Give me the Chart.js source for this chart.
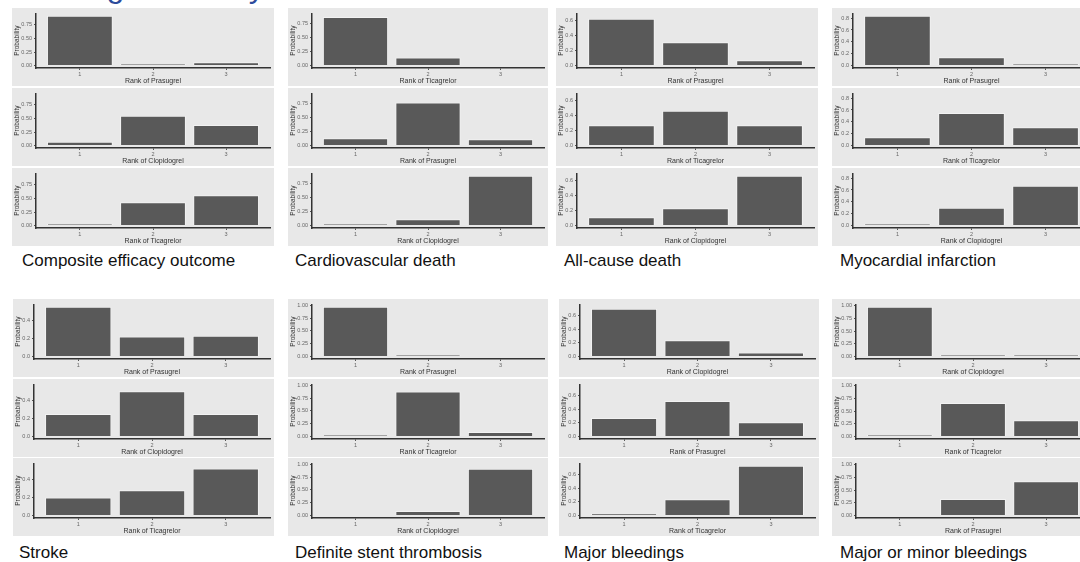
<!DOCTYPE html>
<html>
<head>
<meta charset="utf-8">
<script src="https://cdn.jsdelivr.net/npm/chart.js@4.4.1/dist/chart.umd.min.js"></script>
<style>
    html, body {
        margin: 0;
        padding: 0;
        width: 1080px;
        height: 562px;
        overflow: hidden;
        background: #fff;
        position: relative;
        font-family: 'Liberation Sans', Arial, sans-serif;
    }
    .panel { position: absolute; background: #e8e8e8; }
    .panel canvas { display: block; }
    .caption {
        position: absolute;
        font-size: 17px;
        line-height: 17px;
        color: #111;
        white-space: nowrap;
    }
    .heading {
        position: absolute;
        left: 14px;
        top: -30px;
        font-size: 32px;
        line-height: 32px;
        color: #2d4b9b;
        white-space: nowrap;
    }
</style>
</head>
<body>
<div class="heading">Rankogram analysis</div>
<script>
// Data
const ranks = ['1', '2', '3'];

const outcomes = [
    'Composite efficacy outcome', 'Cardiovascular death', 'All-cause death', 'Myocardial infarction',
    'Stroke', 'Definite stent thrombosis', 'Major bleedings', 'Major or minor bleedings'
];

const drugOrder = [
    ['Prasugrel', 'Clopidogrel', 'Ticagrelor'],
    ['Ticagrelor', 'Prasugrel', 'Clopidogrel'],
    ['Prasugrel', 'Ticagrelor', 'Clopidogrel'],
    ['Prasugrel', 'Ticagrelor', 'Clopidogrel'],
    ['Prasugrel', 'Clopidogrel', 'Ticagrelor'],
    ['Prasugrel', 'Ticagrelor', 'Clopidogrel'],
    ['Clopidogrel', 'Prasugrel', 'Ticagrelor'],
    ['Clopidogrel', 'Ticagrelor', 'Prasugrel']
];

// probability of rank 1..3, one row per drug (same order as drugOrder)
const compositeProb   = [[0.92, 0.01, 0.06], [0.07, 0.55, 0.38], [0.01, 0.43, 0.56]];
const cvDeathProb     = [[0.86, 0.14, 0.00], [0.13, 0.76, 0.11], [0.01, 0.11, 0.88]];
const allCauseProb    = [[0.62, 0.31, 0.07], [0.27, 0.46, 0.27], [0.11, 0.23, 0.66]];
const miProb          = [[0.84, 0.14, 0.02], [0.14, 0.55, 0.31], [0.02, 0.30, 0.67]];
const strokeProb      = [[0.55, 0.22, 0.23], [0.25, 0.50, 0.25], [0.20, 0.28, 0.52]];
const stentProb       = [[0.97, 0.03, 0.00], [0.03, 0.88, 0.09], [0.00, 0.09, 0.91]];
const majorBleedProb  = [[0.70, 0.24, 0.06], [0.27, 0.52, 0.21], [0.03, 0.24, 0.73]];
const anyBleedProb    = [[0.98, 0.015, 0.005], [0.02, 0.66, 0.32], [0.00, 0.325, 0.675]];

const probs = [compositeProb, cvDeathProb, allCauseProb, miProb,
               strokeProb, stentProb, majorBleedProb, anyBleedProb];

// y tick labels per outcome
const ticksQuarter    = ['0.00', '0.25', '0.50', '0.75'];
const ticksQuarterOne = ['0.00', '0.25', '0.50', '0.75', '1.00'];
const ticksTo06       = ['0.0', '0.2', '0.4', '0.6'];
const ticksTo08       = ['0.0', '0.2', '0.4', '0.6', '0.8'];
const ticksTo04       = ['0.0', '0.2', '0.4'];

const yTicks = [ticksQuarter, ticksQuarter, ticksTo06, ticksTo08,
                ticksTo04, ticksQuarterOne, ticksTo06, ticksQuarterOne];

// Layout
const groupX = [12, 288, 556, 832, 13, 288, 559, 832];
const groupW = [262, 260, 262, 262, 261, 260, 260, 262];
const captionX = [22, 295, 564, 840, 19, 295, 564, 840];
const rowPanelY = [[8, 88, 168], [299, 379, 458]];
const captionY = [252, 544];
const panelH = 78;

Chart.defaults.font.family = "'Liberation Sans', Arial, sans-serif";

function makePanel(left, top, width, values, drug, labels, maxVal) {
    const div = document.createElement('div');
    div.className = 'panel';
    div.style.left = left + 'px';
    div.style.top = top + 'px';
    div.style.width = width + 'px';
    div.style.height = panelH + 'px';
    const canvas = document.createElement('canvas');
    canvas.width = width;
    canvas.height = panelH;
    div.appendChild(canvas);
    document.body.appendChild(div);

    const axisW = labels[0].length > 3 ? 24 : 21;

    new Chart(canvas, {
        type: 'bar',
        data: {
            datasets: [{
                // zero probabilities are not drawn at all; tiny ones still show as a thin line
                data: ranks.map((r, i) => ({ x: Number(r), y: values[i] > 0 ? values[i] : null })),
                backgroundColor: '#595959',
                borderColor: 'rgba(255,255,255,0.45)',
                borderWidth: 1,
                minBarLength: 1.5,
                barPercentage: 0.9,
                categoryPercentage: 1
            }]
        },
        options: {
            responsive: false,
            animation: false,
            devicePixelRatio: 1,
            layout: { padding: { top: 3, right: 4, left: 0, bottom: 0 } },
            plugins: { legend: { display: false }, tooltip: { enabled: false } },
            scales: {
                x: {
                    type: 'linear',
                    min: 0.4,
                    max: 3.6,
                    offset: false,
                    afterBuildTicks: (s) => { s.ticks = ranks.map(r => ({ value: Number(r) })); },
                    afterFit: (s) => { s.height = 18; },
                    ticks: {
                        callback: (v, i) => ranks[i],
                        font: { size: 5.5 },
                        color: '#666',
                        padding: 1,
                        maxRotation: 0,
                        autoSkip: false
                    },
                    grid: { display: true, drawOnChartArea: false, drawTicks: true, tickLength: 2, color: '#555', offset: false },
                    border: { display: true, color: '#333', width: 1.5 },
                    title: { display: true, text: 'Rank of ' + drug, font: { size: 7 }, color: '#333', padding: { top: 0, bottom: 1 } }
                },
                y: {
                    min: -0.05 * maxVal,
                    max: 1.05 * maxVal,
                    afterBuildTicks: (s) => { s.ticks = labels.map(t => ({ value: parseFloat(t) })); },
                    afterFit: (s) => { s.width = axisW; },
                    ticks: {
                        callback: (v, i) => labels[i],
                        font: { size: 5.5 },
                        color: '#666',
                        padding: 2,
                        autoSkip: false
                    },
                    grid: { display: true, drawOnChartArea: false, drawTicks: true, tickLength: 2, color: '#555' },
                    border: { display: true, color: '#333', width: 1.5 },
                    title: { display: true, text: 'Probability', font: { size: 6.5 }, color: '#333', padding: { top: 1.5, bottom: 0 } }
                }
            }
        }
    });
}

outcomes.forEach((name, g) => {
    const row = g < 4 ? 0 : 1;
    const maxVal = Math.max(...probs[g].flat());
    drugOrder[g].forEach((drug, p) => {
        makePanel(groupX[g], rowPanelY[row][p], groupW[g], probs[g][p], drug, yTicks[g], maxVal);
    });
    const cap = document.createElement('div');
    cap.className = 'caption';
    cap.style.left = captionX[g] + 'px';
    cap.style.top = captionY[row] + 'px';
    cap.textContent = name;
    document.body.appendChild(cap);
});
</script>
</body>
</html>
